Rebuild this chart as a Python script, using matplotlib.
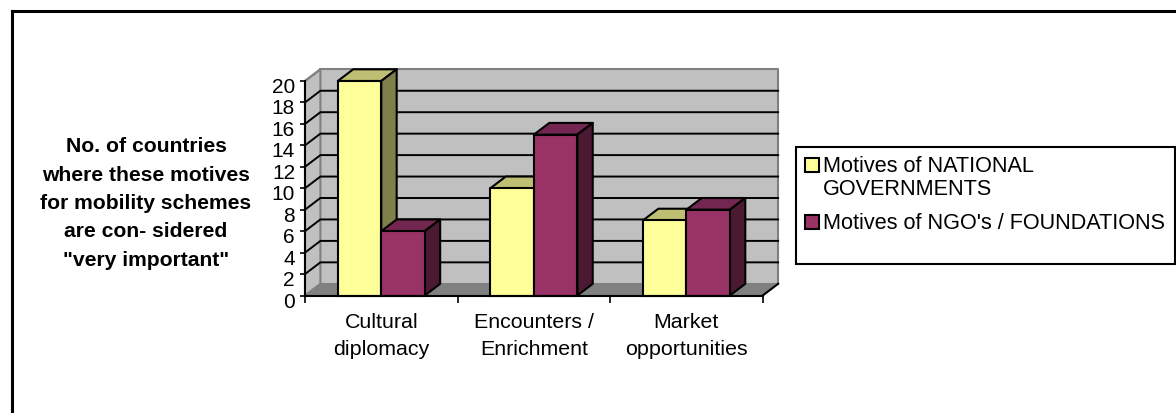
import matplotlib
matplotlib.use('Agg')
import matplotlib.pyplot as plt
from matplotlib.patches import Polygon, Rectangle
from matplotlib.lines import Line2D
from matplotlib.transforms import ScaledTranslation

categories = ['Cultural\ndiplomacy', 'Encounters /\nEnrichment', 'Market\nopportunities']
national = [20, 10, 7]
ngo = [6, 15, 8]
yticks = list(range(0, 21, 2))
series_names = ['Motives of NATIONAL\nGOVERNMENTS', "Motives of NGO's / FOUNDATIONS"]
ylabel = 'No. of countries\nwhere these motives\nfor mobility schemes\nare con- sidered\n"very important"'

W, H = 1176, 413
plt.rcParams['font.family'] = ['Liberation Sans', 'DejaVu Sans']

fig = plt.figure(figsize=(W / 100, H / 100), dpi=100)

# plot area is the front plane of the fake 3d box
x0, x1, y0, y1 = 305, 762.7, 295.5, 81
ax = fig.add_axes([x0 / W, 1 - y0 / H, (x1 - x0) / W, (y0 - y1) / H])
ax.set_xlim(0, 3)
ax.set_ylim(0, 20)

# depth of the box, in data units
dx = 15.4 / ((x1 - x0) / 3)
dy = 11.7 / ((y0 - y1) / 20)
bar_w = 0.285
GREY = '#808080'


def poly(pts, fc, ec, lw, z):
    ax.add_patch(Polygon(pts, closed=True, fc=fc, ec=ec, lw=lw, zorder=z,
                         clip_on=False, joinstyle='round'))


# walls and floor
poly([(dx, dy), (3 + dx, dy), (3 + dx, 20 + dy), (dx, 20 + dy)], '#c0c0c0', GREY, 1.5, 1)
poly([(0, 0), (dx, dy), (dx, 20 + dy), (0, 20)], '#c0c0c0', GREY, 1.5, 1)
poly([(0, 0), (3, 0), (3 + dx, dy), (dx, dy)], GREY, GREY, 1, 1)

# gridlines run along the side wall and the back wall
for v in yticks[1:-1]:
    ax.plot([0, dx, 3 + dx], [v, v + dy, v + dy], color='black', lw=1.4, zorder=2,
            clip_on=False, solid_joinstyle='miter')
ax.plot([0, dx], [20, 20 + dy], color=GREY, lw=1.5, zorder=2, clip_on=False)
ax.plot([3, 3 + dx], [0, dy], color='black', lw=1.5, zorder=2, clip_on=False)

colors = [('#ffff99', '#bfbf73', '#7f7f4c'), ('#993366', '#732650', '#4c1933')]
z = 3
for i in range(len(categories)):
    left = i + 0.5 - bar_w
    for vals, (front, top, side) in zip([national, ngo], colors):
        v = vals[i]
        r = left + bar_w
        poly([(left, v), (r, v), (r + dx, v + dy), (left + dx, v + dy)], top, 'black', 1.5, z)
        poly([(r, 0), (r + dx, dy), (r + dx, v + dy), (r, v)], side, 'black', 1.5, z)
        poly([(left, 0), (r, 0), (r, v), (left, v)], front, 'black', 1.5, z)
        z += 1
        left = r

for s in ['top', 'right']:
    ax.spines[s].set_visible(False)
for s in ['left', 'bottom']:
    ax.spines[s].set_linewidth(1.5)
    ax.spines[s].set_zorder(20)

ax.set_yticks(yticks)
ax.tick_params(axis='y', labelsize=15, length=3.5, width=1.2, pad=3.7)
# labels sit a little under their ticks in the original
for label in ax.get_yticklabels():
    label.set_transform(label.get_transform() + ScaledTranslation(0, -4.5 / 100, fig.dpi_scale_trans))
ax.set_xticks([0, 1, 2, 3])
ax.set_xticklabels([])
ax.tick_params(axis='x', which='major', length=5, width=1.2)
ax.set_xticks([0.5, 1.5, 2.5], minor=True)
ax.set_xticklabels(categories, minor=True, fontsize=15.4, linespacing=1.55)
ax.tick_params(axis='x', which='minor', length=0, pad=12.5)

fig.text(146 / W, 1 - 203.5 / H, ylabel, ha='center', va='center', fontsize=15.2,
         fontweight='bold', linespacing=1.62)

# legend is drawn by hand: its box is bigger than its content and the swatch
# lines up with the first line of a wrapped label
fig.add_artist(Rectangle((796 / W, 1 - 264 / H), 379 / W, 117 / H, transform=fig.transFigure,
                         fc='white', ec='black', lw=1.5))
swatch_top = [158, 215]
label_mid = [178, 223.5]
for name, (front, _, _), top, mid in zip(series_names, colors, swatch_top, label_mid):
    fig.add_artist(Rectangle((804.5 / W, 1 - (top + 13.5) / H), 14 / W, 13.5 / H,
                             transform=fig.transFigure, fc=front, ec='black', lw=1.5))
    fig.text(823 / W, 1 - mid / H, name, ha='left', va='center', fontsize=15.6, linespacing=1.14)

# outer frame only shows on the left and the top
fig.add_artist(Line2D([11.5 / W, 11.5 / W], [0, 1 - 10.5 / H], color='black', lw=2.2,
                      solid_capstyle='projecting'))
fig.add_artist(Line2D([11.5 / W, 1], [1 - 10.5 / H, 1 - 10.5 / H], color='black', lw=2.2,
                      solid_capstyle='projecting'))

fig.savefig('out.png', dpi=100)
